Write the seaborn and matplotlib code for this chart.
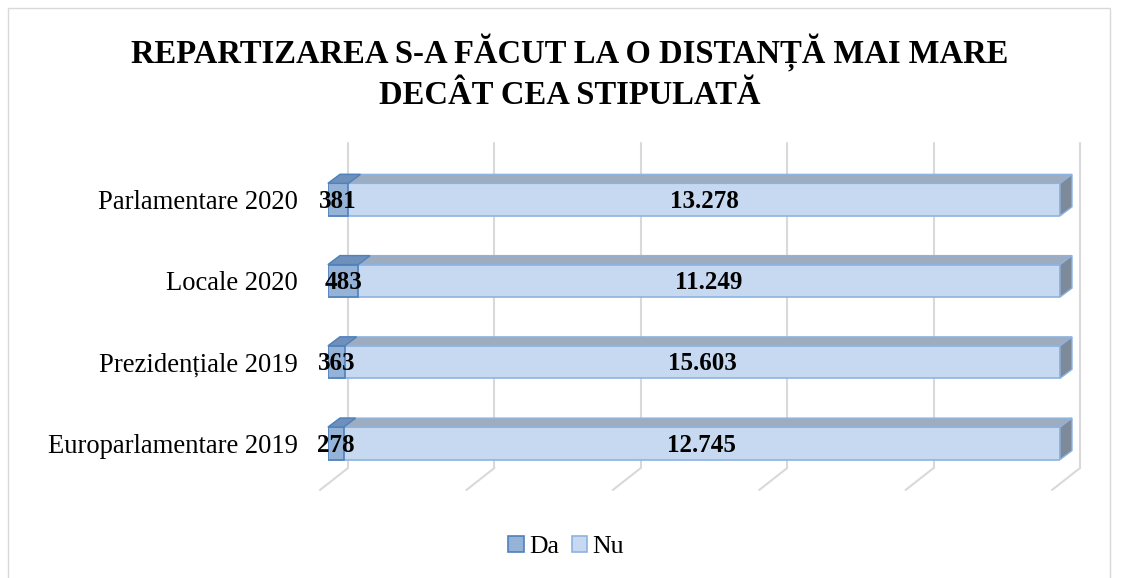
import matplotlib
matplotlib.use('Agg')
import matplotlib.pyplot as plt
import matplotlib.patches as mpatches
from matplotlib.patches import Polygon, Rectangle
import numpy as np
import pandas as pd
import seaborn as sns

# Values
categories = ['Parlamentare 2020', 'Locale 2020', 'Prezidențiale 2019', 'Europarlamentare 2019']
da_values = [381, 483, 363, 278]
nu_values = [13278, 11249, 15603, 12745]
da_labels = ['381', '483', '363', '278']
nu_labels = ['13.278', '11.249', '15.603', '12.745']
title = 'REPARTIZAREA S-A FĂCUT LA O DISTANȚĂ MAI MARE\nDECÂT CEA STIPULATĂ'

# colours
NU_FRONT = '#c6d9f0'
NU_EDGE = '#8db3e2'
NU_TOP = '#9eacbf'
NU_SIDE = '#7d8a9a'
DA_FRONT = '#95b3d7'
DA_EDGE = '#4f81bd'
DA_TOP = '#6f90bb'
GRID = '#d9d9d9'

sns.set_style('white')
plt.rcParams['font.family'] = ['Liberation Serif', 'DejaVu Serif']
plt.rcParams['text.color'] = 'black'
plt.rcParams['ytick.color'] = 'black'

df = pd.DataFrame({'cat': categories, 'da': da_values, 'nu': nu_values})
df['total'] = df['da'] + df['nu']
df['da_pct'] = df['da'] / df['total']
df['all'] = 1.0

W, H = 1122, 578
fig = plt.figure(figsize=(W / 100, H / 100), dpi=100)
ax_l, ax_r, ax_t, ax_b = 328, 1060, 159, 484
ax = fig.add_axes([ax_l / W, 1 - ax_b / H, (ax_r - ax_l) / W, (ax_b - ax_t) / H])

# pixel -> data helpers
px_x = 1.0 / (ax_r - ax_l)
px_y = 4.0 / (ax_b - ax_t)

# back wall grid + floor lines (drawn first)
for k in range(6):
    x = k * 0.2
    xb = x + 20 * px_x
    ytop = -0.5 - 16 * px_y
    ybot = 3.5 - 16 * px_y
    ax.plot([xb, xb], [ytop, ybot], color=GRID, lw=1.5, zorder=0, clip_on=False)
    ax.plot([xb, x - 8 * px_x], [ybot, ybot + 22 * px_y], color=GRID, lw=1.5,
            zorder=0, clip_on=False)

sns.barplot(data=df, x='all', y='cat', orient='h', color=NU_FRONT, width=0.4,
            edgecolor=NU_EDGE, linewidth=1.2, saturation=1, ax=ax, zorder=2)
n_nu = len(ax.patches)
sns.barplot(data=df, x='da_pct', y='cat', orient='h', color=DA_FRONT, width=0.4,
            edgecolor=DA_EDGE, linewidth=1.2, saturation=1, ax=ax, zorder=3)

dx = 12 * px_x
dy = 9 * px_y
for i, p in enumerate(ax.patches):
    x0 = p.get_x()
    w = p.get_width()
    y0 = p.get_y()
    h = p.get_height()
    ytop = min(y0, y0 + h)
    ybot = max(y0, y0 + h)
    is_nu = i < n_nu
    top_col = NU_TOP if is_nu else DA_TOP
    edge = NU_EDGE if is_nu else DA_EDGE
    top = Polygon([(x0, ytop), (x0 + w, ytop), (x0 + w + dx, ytop - dy), (x0 + dx, ytop - dy)],
                  closed=True, facecolor=top_col, edgecolor=edge, lw=1.0,
                  zorder=2.5 if is_nu else 3.5, clip_on=False)
    ax.add_patch(top)
    if is_nu:
        side = Polygon([(x0 + w, ytop), (x0 + w + dx, ytop - dy), (x0 + w + dx, ybot - dy), (x0 + w, ybot)],
                       closed=True, facecolor=NU_SIDE, edgecolor=NU_EDGE, lw=1.0,
                       zorder=2.5, clip_on=False)
        ax.add_patch(side)

# value labels
for i in range(len(categories)):
    da_p = df['da_pct'].iloc[i]
    ax.text(da_p / 2, i + 0.02, da_labels[i], ha='center', va='center', fontsize=18,
            fontweight='bold', zorder=5)
    ax.text(da_p + (1 - da_p) / 2, i + 0.02, nu_labels[i], ha='center', va='center',
            fontsize=18, fontweight='bold', zorder=5)

ax.set_xlim(0, 1)
ax.set_ylim(3.5, -0.5)
ax.set_xlabel('')
ax.set_ylabel('')
ax.set_xticks([])
ax.tick_params(axis='y', length=0, pad=22, labelsize=19.2)
for s in ax.spines.values():
    s.set_visible(False)
ax.patch.set_alpha(0)

fig.text(570 / W, 1 - 72 / H, title, ha='center', va='center', fontsize=23.5,
         fontweight='bold', linespacing=1.38)

handles = [mpatches.Patch(facecolor=DA_FRONT, edgecolor=DA_EDGE, lw=1.2, label='Da'),
           mpatches.Patch(facecolor=NU_FRONT, edgecolor=NU_EDGE, lw=1.2, label='Nu')]
fig.legend(handles=handles, loc='center', bbox_to_anchor=(566 / W, 1 - 547 / H), ncol=2,
           frameon=False, fontsize=18.5, handlelength=0.6, handleheight=0.6,
           handletextpad=0.2, columnspacing=0.5)

# outer chart frame
fig.add_artist(Rectangle((8 / W, -0.01), (1110 - 8) / W, 1 - 8 / H + 0.01,
                         transform=fig.transFigure, fill=False, edgecolor='#d9d9d9', lw=1))

fig.savefig('out.png', dpi=100)
